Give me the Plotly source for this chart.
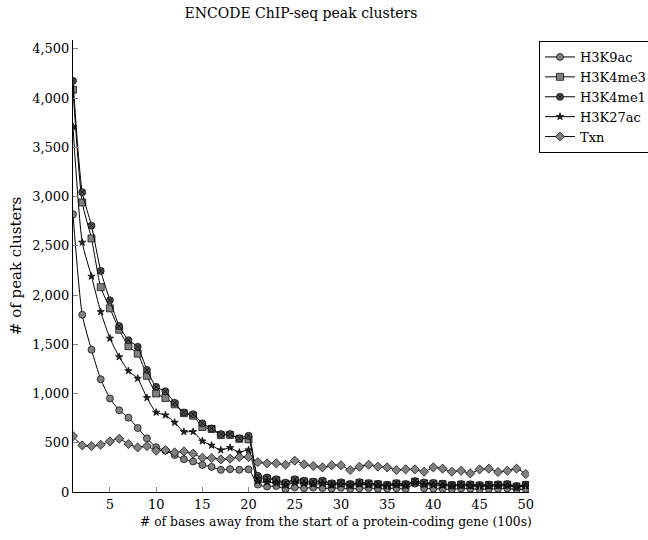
import plotly.graph_objects as go

x_vals = list(range(1, 51))

h3k9ac = [2820, 1800, 1445, 1145, 950, 830, 755, 650, 545, 455,
          420, 375, 332, 310, 275, 255, 225, 232, 225, 230,
          75, 55, 60, 30, 48, 38, 45, 40, 35, 42,
          30, 38, 40, 32, 35, 38, 30, 85, 38, 35,
          30, 28, 35, 32, 28, 30, 32, 35, 25, 30]

h3k4me3 = [4085, 2940, 2575, 2080, 1865, 1648, 1480, 1405, 1180, 1000,
           955, 890, 800, 775, 660, 640, 578, 580, 540, 535,
           140, 135, 118, 85, 118, 105, 98, 105, 80, 90,
           75, 92, 85, 78, 68, 85, 75, 105, 88, 85,
           80, 68, 75, 72, 65, 70, 72, 75, 55, 70]

h3k4me1 = [4175, 3045, 2705, 2245, 1947, 1685, 1542, 1474, 1240, 1068,
           1022, 906, 808, 790, 697, 646, 588, 588, 545, 570,
           165, 148, 130, 95, 130, 115, 105, 115, 88, 98,
           80, 100, 90, 82, 72, 90, 80, 110, 95, 92,
           85, 72, 80, 78, 70, 75, 78, 80, 60, 75]

h3k27ac = [3710, 2535, 2190, 1830, 1560, 1372, 1230, 1153, 957, 808,
           781, 706, 612, 612, 517, 473, 426, 450, 402, 426,
           110, 100, 90, 70, 95, 85, 80, 85, 70, 78,
           65, 80, 72, 68, 60, 72, 65, 95, 75, 72,
           68, 60, 65, 62, 58, 60, 62, 65, 50, 62]

txn = [568, 473, 466, 480, 514, 541, 487, 453, 466, 419,
       426, 402, 412, 389, 348, 345, 331, 338, 355, 355,
       304, 291, 291, 277, 318, 281, 264, 250, 271, 271,
       223, 257, 277, 257, 250, 223, 230, 230, 206, 250,
       237, 206, 216, 189, 230, 237, 203, 216, 237, 183]

series = [
    ("H3K9ac", h3k9ac, "circle", 7, "#808080"),
    ("H3K4me3", h3k4me3, "square", 7, "#808080"),
    ("H3K4me1", h3k4me1, "circle-x", 7, "#505050"),
    ("H3K27ac", h3k27ac, "star", 5.5, "#222222"),
    ("Txn", txn, "diamond", 7, "#808080"),
]

FONT = "DejaVu Serif, serif"
FS = 13

fig = go.Figure()
for name, vals, sym, size, fill in series:
    fig.add_trace(go.Scatter(
        x=x_vals, y=vals, name=name, mode="lines+markers",
        line=dict(color="black", width=1, shape="spline", smoothing=0.6),
        marker=dict(symbol=sym, size=size, color=fill,
                    line=dict(color="black", width=0.7)),
    ))

fig.update_layout(
    width=648, height=540,
    margin=dict(l=73, r=119, t=40, b=48, autoexpand=False),
    paper_bgcolor="white", plot_bgcolor="white",
    font=dict(family=FONT, size=FS, color="black"),
    title=dict(text="ENCODE ChIP-seq peak clusters", x=0.5, xref="paper",
               xanchor="center", y=0.975, yanchor="middle",
               font=dict(family=FONT, size=14)),
    legend=dict(xref="container", yref="container", x=539 / 648, y=1 - 41 / 540,
                xanchor="left", yanchor="top",
                bordercolor="black", borderwidth=1, bgcolor="white",
                font=dict(family=FONT, size=FS), tracegroupgap=0,
                itemwidth=30, entrywidth=80),
    showlegend=True,
)

fig.add_annotation(
    text="# of bases away from the start of a protein-coding gene (100s)",
    xref="paper", yref="paper", x=(336 - 73) / 456, y=-0.066,
    xanchor="center", yanchor="middle", showarrow=False,
    font=dict(family=FONT, size=12.3),
)

fig.update_xaxes(
    range=[1, 50.35], tickvals=[5, 10, 15, 20, 25, 30, 35, 40, 45, 50],
    showgrid=False, zeroline=False, showline=True, linecolor="black",
    linewidth=1, ticks="inside", ticklen=5, tickcolor="#888888",
    tickfont=dict(family=FONT, size=FS),
)
fig.update_yaxes(
    range=[0, 4590], tickvals=[0, 500, 1000, 1500, 2000, 2500, 3000, 3500, 4000, 4500],
    tickformat=",d",
    showgrid=False, zeroline=False, showline=True, linecolor="black",
    linewidth=1, ticks="inside", ticklen=5, tickcolor="#888888",
    title=dict(text="# of peak clusters", standoff=6,
               font=dict(family=FONT, size=15)),
    tickfont=dict(family=FONT, size=FS),
)

fig.write_html("out.html")
